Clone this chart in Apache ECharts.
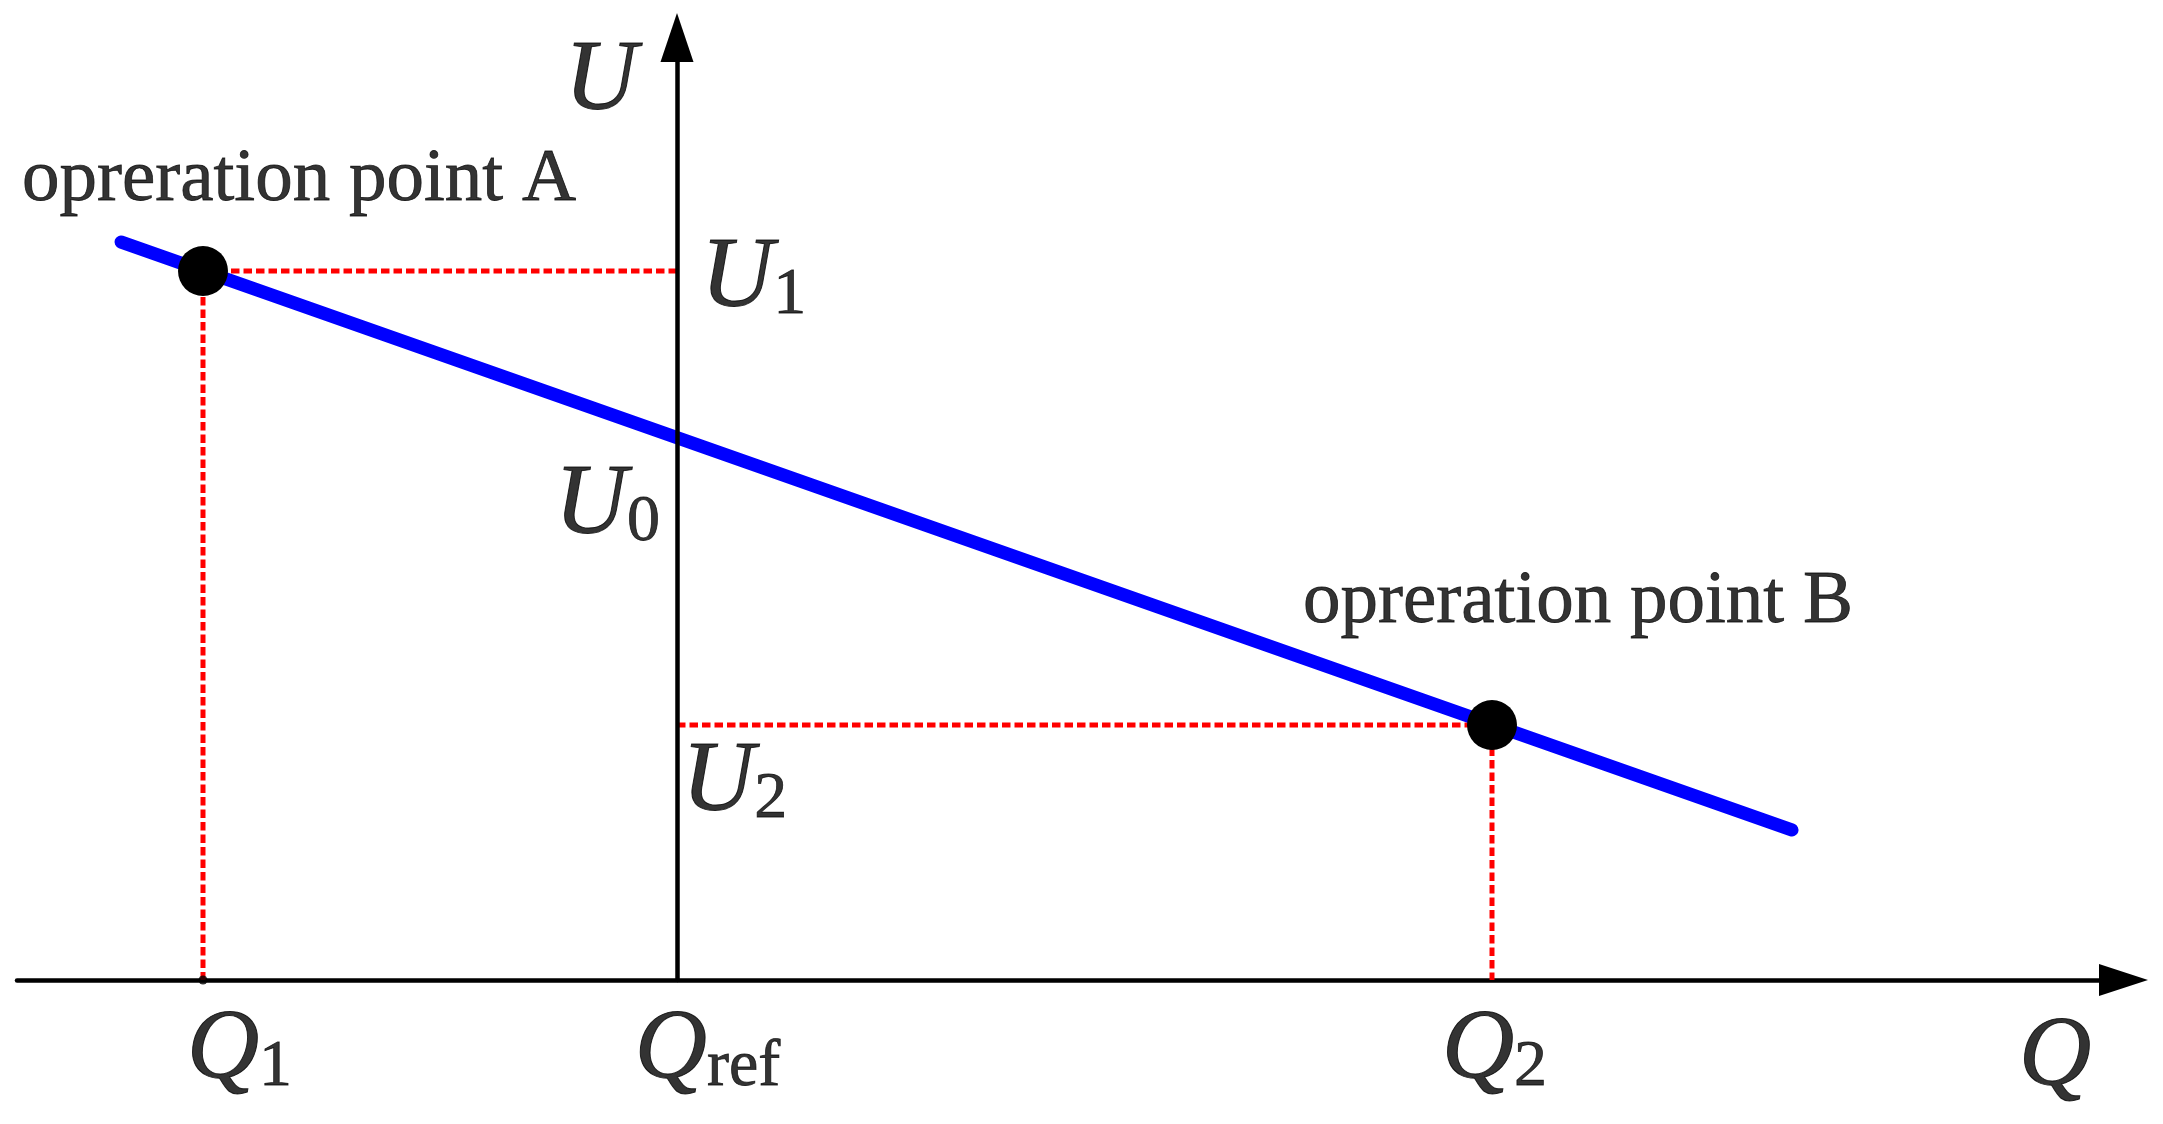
<!DOCTYPE html>
<html><head><meta charset="utf-8">
<script src="https://cdn.jsdelivr.net/npm/echarts@6/dist/echarts.min.js"></script>
<style>html,body{margin:0;padding:0;background:#fff}#c{width:2163px;height:1124px}</style>
</head><body><div id="c"></div>
<script>
// ---- data ----
const qRange = [-66, 144.65];
const uRange = [0, 94.25];
const droopQ = [-55.6, 111.5];
const droopU = [73.8, 15.0];
const opNames = ['opreration point A', 'opreration point B'];
const opQ = [-47.4, 81.5];
const opU = [70.9, 25.5];
const qRef = 0;
const uRef = 54.2;
const qTickText = [['Q', '1'], ['Q', 'ref'], ['Q', '2']];
const uTickText = [['U', '1'], ['U', '0'], ['U', '2']];
const axisNames = ['Q', 'U'];

// ---- styles ----
const SERIF = "'Liberation Serif', 'Times New Roman', serif";
const INK = '#000000';
const rich = {
  i: { fontFamily: SERIF, fontStyle: 'italic', fontSize: 100, lineHeight: 100, color: INK, verticalAlign: 'bottom',
       textBorderColor: INK, textBorderWidth: 1 },
  s: { fontFamily: SERIF, fontSize: 66, lineHeight: 35, color: INK, verticalAlign: 'bottom',
       textBorderColor: INK, textBorderWidth: 0.8 }
};
const sym = (pair) => '{i|' + pair[0] + '}' + (pair[1] ? '{s|' + pair[1] + '}' : '');

function lbl(value, text, align, offset, plain) {
  const label = {
    show: true, position: 'inside', formatter: text, align: align,
    verticalAlign: 'middle', offset: offset, color: INK,
    textBorderColor: INK, textBorderWidth: plain ? 0.8 : 0
  };
  if (plain) {
    label.fontFamily = SERIF; label.fontSize = 75;
  } else {
    label.rich = rich;
  }
  return { value: value, label: label };
}

const labelData = [
  lbl([qRef, uRange[1]], sym([axisNames[1]]), 'right', [-40, 44]),
  lbl([qRange[1], 0], sym([axisNames[0]]), 'center', [-68.5, 78]),
  lbl([qRef, opU[0]], sym(uTickText[0]), 'left', [24, 8]),
  lbl([qRef, uRef], sym(uTickText[1]), 'right', [-17, 68]),
  lbl([qRef, opU[1]], sym(uTickText[2]), 'left', [5, 58]),
  lbl([opQ[0], 0], sym(qTickText[0]), 'center', [36.5, 71]),
  lbl([qRef, 0], sym(qTickText[1]), 'center', [30.5, 71]),
  lbl([opQ[1], 0], sym(qTickText[2]), 'center', [2.5, 71]),
  lbl([opQ[0], opU[0]], opNames[0], 'left', [-181, -91], true),
  lbl([opQ[1], opU[1]], opNames[1], 'left', [-189, -123], true)
];

const guide = (k) => [[qRef, opU[k]], [opQ[k], opU[k]], [opQ[k], 0]];
const guideStyle = { color: '#ff0000', width: 5, type: [8.5, 4] };

const chart = echarts.init(document.getElementById('c'), null, { renderer: 'canvas' });
chart.setOption({
  animation: false,
  backgroundColor: '#ffffff',
  textStyle: { color: INK },
  grid: { left: 17, right: 39.5, top: 37.5, bottom: 144, outerBoundsMode: 'none', containLabel: false },
  xAxis: {
    type: 'value', min: qRange[0], max: qRange[1],
    axisLine: { show: true, onZero: true, symbol: ['none', 'triangle'], symbolSize: [32, 49],
      lineStyle: { color: INK, width: 4.5 } },
    axisTick: { show: false }, axisLabel: { show: false }, splitLine: { show: false }
  },
  yAxis: {
    type: 'value', min: uRange[0], max: uRange[1], z: 5,
    axisLine: { show: true, onZero: true, symbol: ['none', 'triangle'], symbolSize: [33, 49],
      lineStyle: { color: INK, width: 4.5 } },
    axisTick: { show: false }, axisLabel: { show: false }, splitLine: { show: false }
  },
  series: [
    { type: 'line', data: guide(0), symbol: 'none', lineStyle: guideStyle, z: 1, silent: true },
    { type: 'line', data: guide(1), symbol: 'none', lineStyle: guideStyle, z: 1, silent: true },
    { type: 'line', data: droopQ.map((q, i) => [q, droopU[i]]), symbol: 'none', z: 2, silent: true,
      lineStyle: { color: '#0000ff', width: 13, cap: 'round' } },
    { type: 'scatter', data: opQ.map((q, i) => [q, opU[i]]), symbolSize: 50, z: 6, silent: true,
      itemStyle: { color: INK, opacity: 1 } },
    { type: 'scatter', data: [[opQ[0], 0]], symbolSize: 9, z: 6, silent: true, itemStyle: { color: INK } },
    { type: 'scatter', data: labelData, symbolSize: 1, z: 7, silent: true, clip: false,
      itemStyle: { color: 'rgba(0,0,0,0)' } }
  ]
});
</script></body></html>
